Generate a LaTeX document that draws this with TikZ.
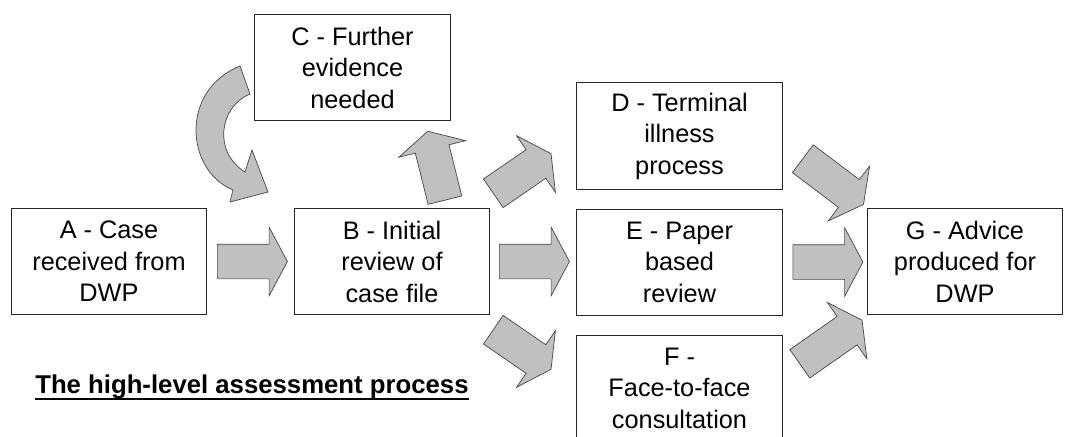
\documentclass[tikz,border=0pt]{standalone}
\usepackage{fontspec}
\setmainfont{Liberation Sans}
\usetikzlibrary{shapes.arrows, calc}
\definecolor{arrowgray}{RGB}{192,192,192}
\definecolor{edgegray}{RGB}{70,70,70}

\begin{document}
\begin{tikzpicture}[
    x=0.025cm, y=-0.025cm,
    stage/.style={draw=black!85, line width=0.7pt, minimum width=4.875cm, minimum height=2.65cm, align=center, inner sep=0pt, font=\fontsize{18}{22.4}\selectfont},
    widestage/.style={stage, minimum width=5.125cm},
    flow/.style={single arrow, draw=edgegray, fill=arrowgray, line width=0.5pt, minimum height=1.75cm, inner xsep=0pt, inner ysep=0.425cm, single arrow head extend=0.425cm, single arrow tip angle=124, anchor=tail}
]

    % Frame of the page
    \useasboundingbox (0,0) rectangle (1066,436);
    \clip (0,0) rectangle (1066,436);

    % Stages
    \node[stage] (A) at (109,261.5) {A - Case\\received from\\DWP};
    \node[stage] (B) at (392,261.5) {B - Initial\\review of\\case file};
    \node[stage] (C) at (352.5,67.5) {C - Further\\evidence\\needed};
    \node[widestage] (D) at (679.5,136) {D - Terminal\\illness\\process};
    \node[widestage] (E) at (679.5,262) {E - Paper\\based\\review};
    \node[widestage] (F) at (679.5,388) {F -\\Face-to-face\\consultation};
    \node[stage] (G) at (965,261.5) {G - Advice\\produced for\\DWP};

    % Block arrows between stages
    \node[flow] (AB) at ($(A.east)+(10,0)$) {};
    \node[flow] (BE) at ($(B.east)+(9,0)$) {};
    \node[flow] (EG) at ($(E.east)+(10,0)$) {};
    \node[flow, rotate=34.5] (BD) at ($(B.north east)+(3,-14.5)$) {};
    \node[flow, rotate=-34.5] (BF) at ($(B.south east)+(3,14.5)$) {};
    \node[flow, rotate=104, minimum height=1.775cm] (BC) at ($(B.north east)+(-45,-7.5)$) {};
    \node[flow, rotate=-37, minimum height=1.9cm] (DG) at ($(D.east)+(20,22.5)$) {};
    \node[flow, rotate=35, minimum height=1.9cm] (FG) at ($(F.east)+(17,-24)$) {};

    % Curved arrow from C back to B
    \draw[draw=edgegray, fill=arrowgray, line width=0.5pt]
      (240,66) -- (250,94) .. controls (219,107) and (213,152) .. (245,172)
      -- (252,150) -- (268,192) -- (230,202) -- (233,190)
      .. controls (185,170) and (180,90) .. (240,66) -- cycle;

    % Caption
    \node[font=\fontsize{18.3}{22}\selectfont\bfseries, anchor=base west, inner sep=0pt] (title) at (35,393) {The high-level assessment process};
    \draw[line width=1.4pt] ($(title.base west)+(0,6)$) -- ($(title.base east)+(0,6)$);

\end{tikzpicture}
\end{document}
